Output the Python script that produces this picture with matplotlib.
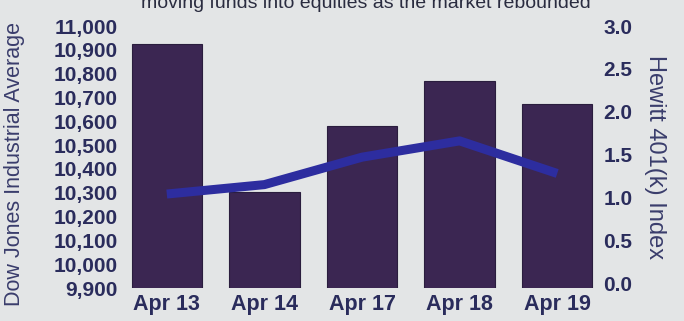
import matplotlib
matplotlib.use("Agg")
import matplotlib.pyplot as plt
from matplotlib.ticker import FuncFormatter

dates = ["Apr 13", "Apr 14", "Apr 17", "Apr 18", "Apr 19"]
dow = [10923, 10305, 10582, 10767, 10674]
hewitt = [1.04, 1.15, 1.47, 1.66, 1.28]
left_ticks = [9900, 10000, 10100, 10200, 10300, 10400, 10500, 10600, 10700, 10800, 10900, 11000]
right_ticks = [0.0, 0.5, 1.0, 1.5, 2.0, 2.5, 3.0]
title = "moving funds into equities as the market rebounded"

bg = "#e3e5e6"
txt = "#2a2c5c"
bar_c = "#3b2652"
line_c = "#2d2d9f"

plt.rcParams['font.family'] = ['Liberation Sans', 'DejaVu Sans']

fig = plt.figure(figsize=(6.84, 3.21), dpi=100, facecolor=bg)
ax = fig.add_axes([0.1725, 0.1028, 0.7135, 0.8162])
ax.set_facecolor(bg)
x = list(range(len(dates)))
ax.bar(x, dow, width=0.72, bottom=0, color=bar_c, edgecolor="#2a1d3e", linewidth=0.8)
ax.set_ylim(9900, 11000)
ax.set_xlim(-0.5, 4.5)
ax.set_yticks(left_ticks)
ax.yaxis.set_major_formatter(FuncFormatter(lambda v, p: f"{int(v):,}"))
ax.set_xticks(x)
ax.set_xticklabels(dates)
for s in ax.spines.values():
    s.set_visible(False)
ax.tick_params(axis='y', length=0, pad=0, labelsize=15, labelcolor=txt)
ax.tick_params(axis='x', length=0, pad=4, labelsize=15.5, labelcolor=txt)
for lab in ax.get_yticklabels() + ax.get_xticklabels():
    lab.set_fontweight('bold')

ax2 = ax.twinx()
ax2.plot(x, hewitt, color=line_c, linewidth=6.5, solid_capstyle='butt', solid_joinstyle='round')
ax2.set_ylim(-0.056, 2.99)
ax2.set_yticks(right_ticks)
ax2.yaxis.set_major_formatter(FuncFormatter(lambda v, p: f"{v:.1f}"))
for s in ax2.spines.values():
    s.set_visible(False)
ax2.tick_params(axis='y', length=0, pad=-2, labelsize=15, labelcolor=txt)
for lab in ax2.get_yticklabels():
    lab.set_fontweight('bold')

fig.text(0.021, 0.49, "Dow Jones Industrial Average", rotation=90, ha='center', va='center',
         fontsize=15.5, color="#3a3d6c")
fig.text(0.957, 0.511, "Hewitt 401(k) Index", rotation=-90, ha='center', va='center',
         fontsize=17, color="#3a3d6c")
fig.text(0.535, 1 - 8/321, title, ha='center', va='baseline', fontsize=14, color="#2a2c40")

fig.savefig("out.png", dpi=100, facecolor=bg)
